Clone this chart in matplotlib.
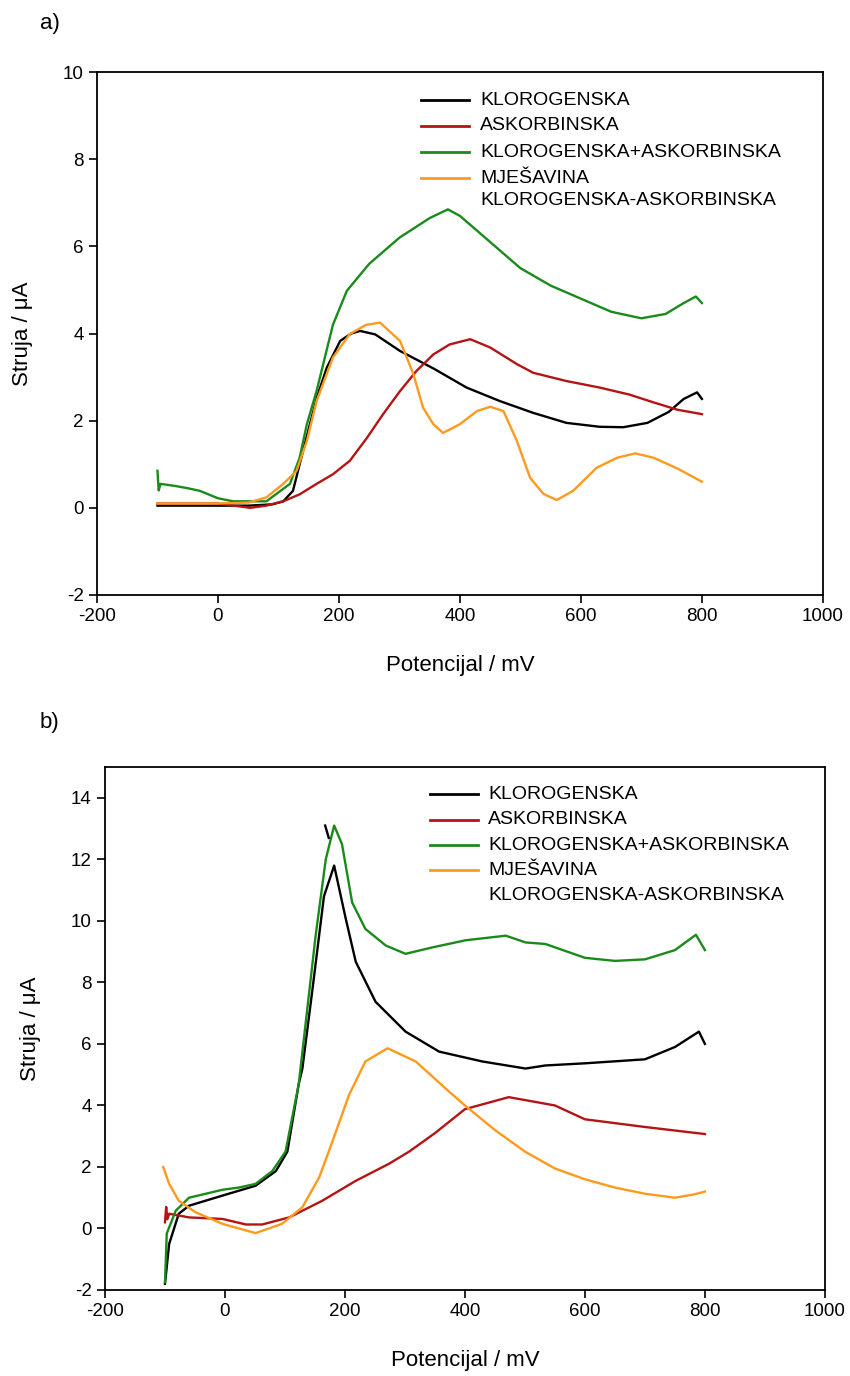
import matplotlib
matplotlib.use('Agg')
import matplotlib.pyplot as plt
import numpy as np

plt.rcParams['font.family'] = ['Liberation Sans', 'DejaVu Sans']
plt.rcParams['axes.unicode_minus'] = False

names = ['KLOROGENSKA', 'ASKORBINSKA', 'KLOROGENSKA+ASKORBINSKA',
         'MJEŠAVINA', 'KLOROGENSKA-ASKORBINSKA']
colors = ['#000000', '#b41414', '#1a8a1a', '#ff9a1e']

# panel a)
a_klo_x = [-100, -50, 0, 50, 90, 108, 124, 135, 152, 165, 180, 202, 220, 235, 260, 301, 356, 411, 466, 521, 576, 631, 670, 710, 745, 770, 792, 800]
a_klo_y = [0.05, 0.05, 0.05, 0.05, 0.08, 0.15, 0.39, 1.0, 1.92, 2.6, 3.22, 3.83, 4.0, 4.06, 3.98, 3.6, 3.2, 2.76, 2.45, 2.18, 1.95, 1.86, 1.85, 1.95, 2.2, 2.5, 2.65, 2.5]
a_ask_x = [-100, -50, 0, 53, 80, 108, 135, 163, 190, 218, 246, 273, 301, 328, 356, 383, 417, 450, 494, 521, 576, 631, 680, 720, 760, 800]
a_ask_y = [0.1, 0.1, 0.1, 0.0, 0.05, 0.15, 0.31, 0.55, 0.77, 1.08, 1.6, 2.15, 2.68, 3.14, 3.52, 3.75, 3.87, 3.68, 3.3, 3.1, 2.91, 2.76, 2.6, 2.42, 2.25, 2.15]
a_mix_x = [-100, -98, -95, -70, -50, -30, 0, 25, 80, 119, 135, 147, 163, 190, 213, 250, 300, 350, 380, 400, 450, 500, 550, 600, 650, 700, 740, 770, 790, 800]
a_mix_y = [0.85, 0.4, 0.55, 0.5, 0.45, 0.39, 0.22, 0.15, 0.15, 0.55, 1.15, 1.92, 2.68, 4.2, 4.98, 5.6, 6.2, 6.65, 6.85, 6.7, 6.1, 5.5, 5.1, 4.8, 4.5, 4.35, 4.45, 4.7, 4.85, 4.7]
a_sme_x = [-100, -50, 0, 50, 80, 108, 130, 147, 163, 190, 218, 245, 268, 301, 323, 339, 356, 372, 400, 428, 450, 472, 494, 516, 538, 560, 587, 626, 660, 690, 720, 760, 800]
a_sme_y = [0.1, 0.1, 0.1, 0.12, 0.24, 0.55, 0.85, 1.54, 2.45, 3.45, 3.99, 4.2, 4.25, 3.83, 3.07, 2.3, 1.92, 1.72, 1.92, 2.22, 2.32, 2.22, 1.54, 0.69, 0.32, 0.18, 0.39, 0.92, 1.15, 1.25, 1.15, 0.9, 0.6]

# panel b)
b_klo_x = [-100, -93, -77, -60, -4, 51, 85, 104, 123, 129, 146, 165, 182, 201, 218, 251, 301, 357, 429, 501, 534, 600, 700, 750, 790, 800]
b_klo_y = [-1.8, -0.5, 0.48, 0.74, 1.07, 1.39, 1.87, 2.5, 4.7, 5.2, 7.8, 10.8, 11.8, 10.1, 8.67, 7.37, 6.4, 5.75, 5.43, 5.2, 5.3, 5.37, 5.5, 5.9, 6.4, 6.0]
b_klo_hook_x = [167, 173]
b_klo_hook_y = [13.1, 12.7]
b_ask_x = [-100, -98, -96, -93, -60, -4, 35, 62, 107, 162, 218, 273, 307, 350, 400, 473, 550, 600, 700, 800]
b_ask_y = [0.2, 0.7, 0.3, 0.48, 0.36, 0.31, 0.13, 0.13, 0.36, 0.9, 1.55, 2.1, 2.5, 3.1, 3.88, 4.27, 4.0, 3.55, 3.3, 3.07]
b_mix_x = [-100, -97, -82, -60, -32, -4, 23, 51, 79, 101, 123, 151, 168, 182, 195, 212, 234, 268, 301, 346, 401, 468, 501, 534, 600, 650, 700, 750, 785, 800]
b_mix_y = [-1.75, -0.16, 0.58, 1.0, 1.13, 1.26, 1.33, 1.45, 1.87, 2.5, 4.7, 9.5, 12.0, 13.1, 12.5, 10.6, 9.74, 9.2, 8.93, 9.14, 9.37, 9.52, 9.3, 9.25, 8.8, 8.7, 8.75, 9.05, 9.55, 9.05]
b_sme_x = [-103, -93, -77, -49, -4, 51, 95, 129, 157, 173, 207, 234, 271, 318, 373, 400, 450, 500, 550, 600, 650, 700, 750, 780, 800]
b_sme_y = [2.0, 1.45, 0.9, 0.53, 0.15, -0.15, 0.15, 0.69, 1.66, 2.5, 4.35, 5.43, 5.86, 5.43, 4.46, 4.0, 3.2, 2.5, 1.95, 1.6, 1.33, 1.13, 1.0, 1.1, 1.2]

panels = [
    ('a)', [0.1141, 0.5676, 0.854, 0.380], (-2, 10), np.arange(-2, 11, 2),
     [(a_klo_x, a_klo_y), (a_ask_x, a_ask_y), (a_mix_x, a_mix_y), (a_sme_x, a_sme_y)], None,
     (0.447, 0.513, 0.528), [0.946, 0.897, 0.847, 0.797, 0.755], 0.983),
    ('b)', [0.1235, 0.0625, 0.847, 0.380], (-2, 15), np.arange(-2, 15, 2),
     [(b_klo_x, b_klo_y), (b_ask_x, b_ask_y), (b_mix_x, b_mix_y), (b_sme_x, b_sme_y)],
     (b_klo_hook_x, b_klo_hook_y),
     (0.451, 0.518, 0.532), [0.948, 0.899, 0.851, 0.803, 0.755], 0.475),
]

fig = plt.figure(figsize=(8.5, 13.76), dpi=100)

for tag, pos, ylim, yticks, series, extra, lx, ly, tag_y in panels:
    ax = fig.add_axes(pos)
    for (x, y), c in zip(series, colors):
        ax.plot(x, y, color=c, lw=1.7)
    if extra is not None:
        ax.plot(extra[0], extra[1], color=colors[0], lw=1.7)
    ax.set_xlim(-200, 1000)
    ax.set_ylim(*ylim)
    ax.set_xticks(np.arange(-200, 1001, 200))
    ax.set_yticks(yticks)
    ax.tick_params(direction='out', length=6, width=1.2, labelsize=13.5, top=False, right=False)
    for s in ax.spines.values():
        s.set_linewidth(1.3)
    ax.set_xlabel('Potencijal / mV', fontsize=16, va='center')
    ax.set_ylabel('Struja / μA', fontsize=16, va='center')
    ax.xaxis.set_label_coords(0.5, -0.134)
    ax.yaxis.set_label_coords(-0.103, 0.5)
    # legend drawn by hand so the handle sits on the first line of the last entry
    for j, c in enumerate(colors):
        ax.plot([lx[0], lx[1]], [ly[j], ly[j]], color=c, lw=2, transform=ax.transAxes, clip_on=False)
    for j, n in enumerate(names):
        ax.text(lx[2], ly[j], n, transform=ax.transAxes, fontsize=14, va='center', ha='left')
    fig.text(0.047, tag_y, tag, fontsize=16, va='center', ha='left')

fig.savefig('out.png', dpi=100)
